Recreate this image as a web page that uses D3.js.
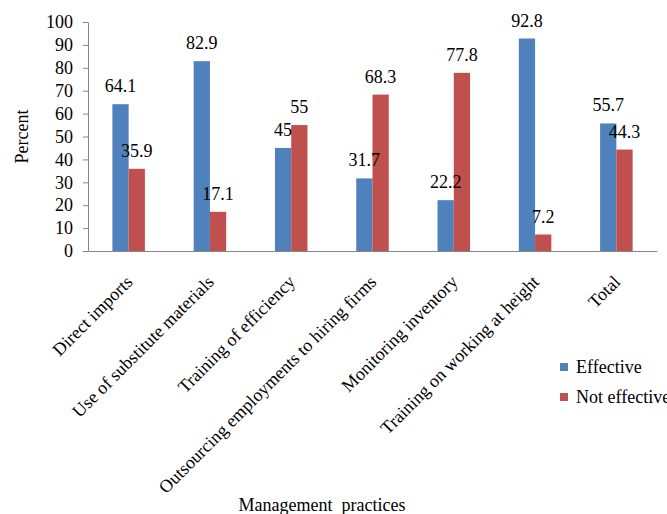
<!DOCTYPE html>
<html>
<head>
<meta charset="utf-8">
<script src="https://cdn.jsdelivr.net/npm/d3@7"></script>
<style>
  body { margin: 0; background: #fff; }
  .axis path, .axis line { stroke: #868686; }
</style>
</head>
<body>
<div id="chart"></div>
<script>
let categories = [
    'Direct imports',
    'Use of substitute materials',
    'Training of efficiency',
    'Outsourcing employments to hiring firms',
    'Monitoring inventory',
    'Training on working at height',
    'Total'
]
let seriesNames = ['Effective', 'Not effective']
let effective = [64.1, 82.9, 45, 31.7, 22.2, 92.8, 55.7]
let notEffective = [35.9, 17.1, 55, 68.3, 77.8, 7.2, 44.3]
let yTicks = [0, 10, 20, 30, 40, 50, 60, 70, 80, 90, 100]
let colors = ['#4F81BD', '#C0504D']

let serif = '"Liberation Serif", "Times New Roman", Times, serif'
let fs = '18px'

let width = 667
let height = 514
let margin = {
    bottom: 263,
    left: 88,
    right: 10,
    top: 22
}
let plotW = width - margin.left - margin.right
let plotH = height - margin.top - margin.bottom

let svg = d3.select('#chart').append('svg')
    .attr('width', width)
    .attr('height', height)
    .style('font-family', serif)

let g = svg.append('g')
    .attr('transform', 'translate(' + margin.left + ',' + margin.top + ')')

let x0 = d3.scaleBand()
    .domain(categories)
    .range([0, plotW])
    .padding(0)

let x1 = d3.scaleBand()
    .domain(seriesNames)
    .range([0, x0.bandwidth()])
    .paddingInner(0)
    .paddingOuter(1.5)

let y = d3.scaleLinear()
    .domain([0, 100])
    .range([plotH, 0])

// y axis
let yAxis = g.append('g')
    .attr('class', 'axis')
    .call(d3.axisLeft(y).tickValues(yTicks).tickSizeInner(5).tickSizeOuter(0).tickPadding(10))
    .attr('font-family', null)
    .attr('font-size', null)
yAxis.selectAll('text')
    .style('font-family', serif)
    .style('font-size', fs)
    .attr('fill', '#000')

// x axis line
g.append('g')
    .attr('class', 'axis')
    .attr('transform', 'translate(0,' + plotH + ')')
    .call(d3.axisBottom(x0).tickSize(0).tickSizeOuter(0).tickFormat(''))

let rows = categories.map((c, i) => ({
    cat: c,
    vals: [
        { name: seriesNames[0], v: effective[i] },
        { name: seriesNames[1], v: notEffective[i] }
    ]
}))

let groups = g.selectAll('.grp')
    .data(rows)
    .enter().append('g')
    .attr('class', 'grp')
    .attr('transform', d => 'translate(' + x0(d.cat) + ',0)')

groups.selectAll('rect')
    .data(d => d.vals)
    .enter().append('rect')
    .attr('x', d => x1(d.name))
    .attr('y', d => y(d.v))
    .attr('width', x1.bandwidth())
    .attr('height', d => plotH - y(d.v))
    .attr('fill', (d, i) => colors[i])

groups.selectAll('.lbl')
    .data(d => d.vals)
    .enter().append('text')
    .attr('class', 'lbl')
    .attr('x', d => x1(d.name) + x1.bandwidth() / 2)
    .attr('y', d => y(d.v) - 12)
    .attr('text-anchor', 'middle')
    .style('font-family', serif)
    .style('font-size', fs)
    .text(d => d.v)

// category labels, rotated
g.selectAll('.cat')
    .data(categories)
    .enter().append('text')
    .attr('class', 'cat')
    .attr('text-anchor', 'end')
    .attr('transform', d => 'translate(' + (x0(d) + x0.bandwidth() / 2 + 5) + ',' + (plotH + 32) + ') rotate(-45)')
    .style('font-family', serif)
    .style('font-size', fs)
    .text(d => d)

// axis titles
svg.append('text')
    .attr('transform', 'translate(28,' + (margin.top + plotH / 2) + ') rotate(-90)')
    .attr('text-anchor', 'middle')
    .style('font-family', serif)
    .style('font-size', fs)
    .text('Percent')

svg.append('text')
    .attr('x', 322)
    .attr('y', 511)
    .attr('text-anchor', 'middle')
    .style('font-family', serif)
    .style('font-size', fs)
    .style('white-space', 'pre')
    .text('Management  practices')

// legend
let legend = svg.append('g')
    .attr('transform', 'translate(560,363)')

let li = legend.selectAll('g')
    .data(seriesNames)
    .enter().append('g')
    .attr('transform', (d, i) => 'translate(0,' + i * 30 + ')')

li.append('rect')
    .attr('width', 8)
    .attr('height', 8)
    .attr('fill', (d, i) => colors[i])

li.append('text')
    .attr('x', 16)
    .attr('y', 10)
    .style('font-family', serif)
    .style('font-size', fs)
    .text(d => d)
</script>
</body>
</html>
